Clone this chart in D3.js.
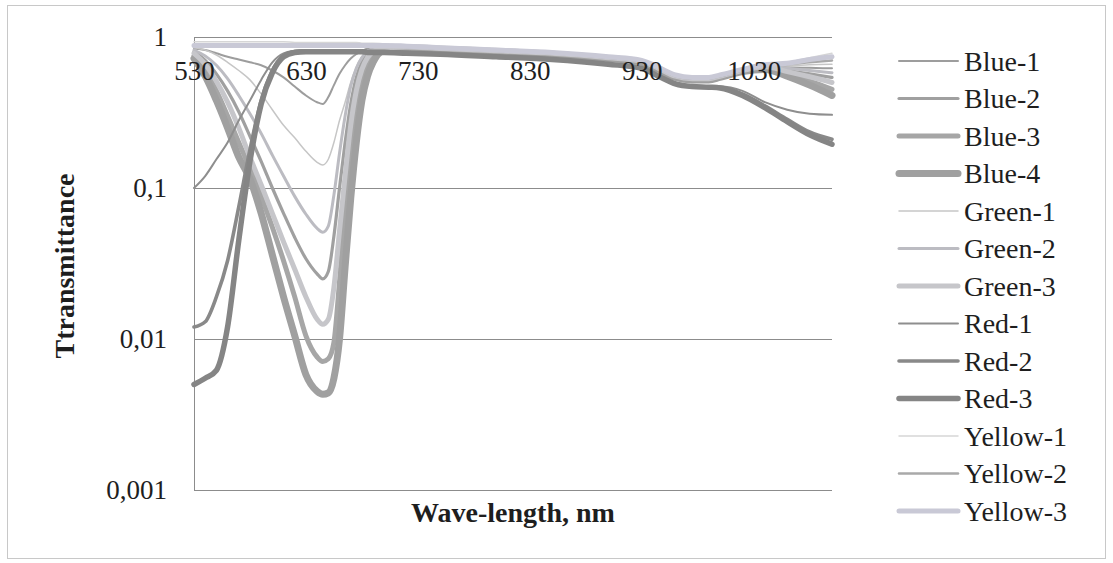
<!DOCTYPE html>
<html>
<head>
<meta charset="utf-8">
<script src="https://cdn.jsdelivr.net/npm/d3@7"></script>
<style>
  html, body { margin: 0; padding: 0; background: #fff; }
  svg { display: block; }
  text { font-family: "Liberation Serif", "Times New Roman", serif; fill: #1e1e1e; }
</style>
</head>
<body>
<svg id="chart" width="1113" height="563"></svg>
<script>
// Wavelength grid (nm) shared by every series
const wavelengths = [530,540,550,560,570,580,590,600,610,620,630,640,645,650,655,660,665,670,675,680,685,690,700,720,750,800,850,900,930,945,960,975,990,1000,1020,1040,1060,1080,1100];

// Transmittance of each filter sample
const blue1  = [.84,.82,.78,.74,.71,.68,.65,.60,.54,.47,.41,.37,.36,.40,.48,.57,.65,.72,.77,.81,.84,.85,.86,.85,.83,.80,.77,.72,.68,.61,.55,.53,.53,.55,.60,.64,.63,.625,.62];
const blue2  = [.80,.70,.57,.44,.32,.22,.15,.10,.068,.047,.034,.027,.025,.028,.048,.10,.20,.36,.54,.68,.78,.83,.86,.85,.83,.80,.77,.72,.68,.61,.54,.52,.52,.54,.59,.63,.60,.57,.54];
const blue3  = [.75,.60,.44,.30,.20,.135,.088,.055,.033,.019,.0105,.0076,.0071,.0074,.0095,.024,.07,.17,.34,.52,.66,.76,.84,.85,.83,.80,.77,.72,.68,.61,.54,.52,.52,.54,.59,.62,.57,.51,.45];
const blue4  = [.72,.55,.38,.25,.16,.115,.068,.036,.019,.0105,.0058,.0045,.0043,.0044,.0055,.010,.030,.085,.20,.38,.55,.68,.82,.85,.83,.80,.77,.72,.68,.61,.54,.52,.52,.54,.59,.61,.55,.48,.41];
const green1 = [.85,.82,.76,.68,.60,.52,.42,.33,.26,.215,.175,.148,.142,.155,.20,.28,.37,.50,.63,.74,.80,.84,.87,.86,.84,.81,.78,.73,.69,.62,.56,.54,.54,.56,.61,.645,.645,.655,.66];
const green2 = [.82,.75,.65,.53,.41,.31,.23,.165,.12,.088,.067,.054,.051,.056,.09,.17,.30,.47,.62,.73,.80,.84,.86,.86,.84,.81,.78,.73,.69,.62,.55,.53,.53,.55,.60,.64,.62,.60,.58];
const green3 = [.78,.66,.51,.37,.25,.16,.105,.068,.044,.029,.019,.0135,.0125,.0135,.022,.052,.12,.26,.44,.61,.73,.80,.85,.86,.84,.81,.78,.73,.69,.62,.55,.53,.53,.55,.60,.635,.59,.545,.50];
const red1   = [.10,.12,.155,.20,.28,.38,.52,.68,.78,.81,.82,.82,.82,.82,.82,.82,.82,.82,.82,.82,.81,.81,.81,.80,.78,.75,.72,.67,.63,.56,.50,.48,.47,.47,.44,.37,.33,.31,.305];
const red2   = [.012,.013,.019,.033,.075,.18,.38,.60,.75,.80,.81,.81,.81,.81,.81,.81,.81,.81,.81,.81,.80,.80,.80,.79,.77,.74,.71,.66,.62,.55,.49,.47,.465,.465,.42,.35,.285,.235,.21];
const red3   = [.005,.0055,.0062,.012,.045,.15,.36,.58,.74,.79,.80,.80,.80,.80,.80,.80,.80,.80,.80,.80,.79,.79,.79,.78,.77,.74,.71,.66,.62,.55,.49,.47,.465,.46,.41,.34,.275,.225,.195];
const yellow1 = [.93,.93,.93,.93,.93,.93,.93,.93,.93,.92,.92,.92,.92,.92,.92,.92,.92,.92,.92,.91,.91,.91,.90,.89,.87,.84,.80,.75,.70,.63,.56,.54,.54,.56,.61,.66,.68,.73,.78];
const yellow2 = [.87,.87,.87,.87,.87,.87,.87,.87,.87,.87,.87,.87,.87,.87,.87,.87,.87,.87,.87,.87,.87,.87,.87,.86,.84,.81,.78,.73,.69,.62,.55,.53,.53,.55,.60,.65,.66,.68,.70];
const yellow3 = [.88,.88,.88,.88,.88,.88,.88,.88,.88,.88,.88,.88,.88,.88,.88,.88,.88,.88,.88,.88,.88,.88,.88,.87,.85,.82,.79,.74,.70,.63,.56,.54,.54,.56,.61,.655,.67,.71,.74];

const seriesNames = ["Blue-1","Blue-2","Blue-3","Blue-4","Green-1","Green-2","Green-3","Red-1","Red-2","Red-3","Yellow-1","Yellow-2","Yellow-3"];
const seriesValues = [blue1,blue2,blue3,blue4,green1,green2,green3,red1,red2,red3,yellow1,yellow2,yellow3];
const seriesColors = ["#9d9d9d","#a0a0a0","#a6a6a6","#a0a0a0","#c6c6c6","#bcbcc2","#c6c6ca","#8e8e8e","#898989","#858585","#d6d6d6","#a9a9a9","#c9c9d6"];
const seriesWidths = [2,3.2,5,7,1.5,3,5,2,3.6,5.5,1.5,2.5,5];

const xTicks = [530,630,730,830,930,1030];
const yTicks = [1,0.1,0.01,0.001];

const svg = d3.select("#chart");

// outer chart frame
svg.append("rect").attr("x",7.5).attr("y",5.5).attr("width",1098).attr("height",553)
  .attr("fill","#fff").attr("stroke","#c8c8c8").attr("stroke-width",1);

const plot = {left:194, right:832, top:37, bottom:490};
const x = d3.scaleLinear().domain([530,1100]).range([plot.left, plot.right]);
const y = d3.scaleLog().domain([0.001,1]).range([plot.bottom, plot.top]);

// horizontal gridlines
svg.append("g")
  .attr("transform",`translate(${plot.left},0)`)
  .call(d3.axisLeft(y).tickValues(yTicks).tickSize(-(plot.right-plot.left)).tickFormat(""))
  .call(g => g.select(".domain").remove())
  .call(g => g.selectAll("line").attr("stroke","#8c8c8c").attr("stroke-width",1).attr("shape-rendering","crispEdges"));

// vertical axis line
svg.append("line").attr("x1",plot.left).attr("x2",plot.left).attr("y1",plot.top).attr("y2",plot.bottom)
  .attr("stroke","#8c8c8c").attr("shape-rendering","crispEdges");

// y tick labels (decimal comma)
const fmtComma = d => String(d).replace(".", ",");
svg.append("g")
  .attr("transform",`translate(${plot.left},0)`)
  .call(d3.axisLeft(y).tickValues(yTicks).tickSize(0).tickPadding(27).tickFormat(fmtComma))
  .call(g => g.select(".domain").remove())
  .call(g => g.selectAll("text").attr("font-size",27).attr("font-family","Liberation Serif").attr("fill","#1e1e1e"));

// series lines
const line = d3.line()
  .x((d,i) => x(wavelengths[i]))
  .y(d => y(d))
  .curve(d3.curveMonotoneX);

const lines = svg.append("g").attr("fill","none").attr("stroke-linejoin","round").attr("stroke-linecap","round");
seriesValues.forEach((vals,k) => {
  lines.append("path")
    .attr("d", line(vals))
    .attr("stroke", seriesColors[k])
    .attr("stroke-width", seriesWidths[k]);
});

// x tick labels, hanging from the axis at transmittance 1
svg.append("g")
  .attr("transform",`translate(0,${plot.top})`)
  .call(d3.axisBottom(x).tickValues(xTicks).tickSize(0).tickPadding(24).tickFormat(d3.format("d")))
  .call(g => g.select(".domain").remove())
  .call(g => g.selectAll("text").attr("font-size",27).attr("font-family","Liberation Serif").attr("fill","#1e1e1e"));

// axis titles
svg.append("text")
  .attr("x",(plot.left+plot.right)/2).attr("y",522)
  .attr("text-anchor","middle").attr("font-size",28).attr("font-weight","bold")
  .text("Wave-length, nm");

svg.append("text")
  .attr("transform","translate(74,266) rotate(-90)")
  .attr("text-anchor","middle").attr("font-size",28).attr("font-weight","bold")
  .text("Ttransmittance");

// legend
const legend = svg.append("g");
seriesNames.forEach((name,k) => {
  const ly = 61 + k*37.5;
  legend.append("line").attr("x1",899).attr("x2",958).attr("y1",ly).attr("y2",ly)
    .attr("stroke",seriesColors[k]).attr("stroke-width",seriesWidths[k]).attr("stroke-linecap","round");
  legend.append("text").attr("x",964).attr("y",ly).attr("dy","0.35em")
    .attr("font-size",28).text(name);
});
</script>
</body>
</html>
